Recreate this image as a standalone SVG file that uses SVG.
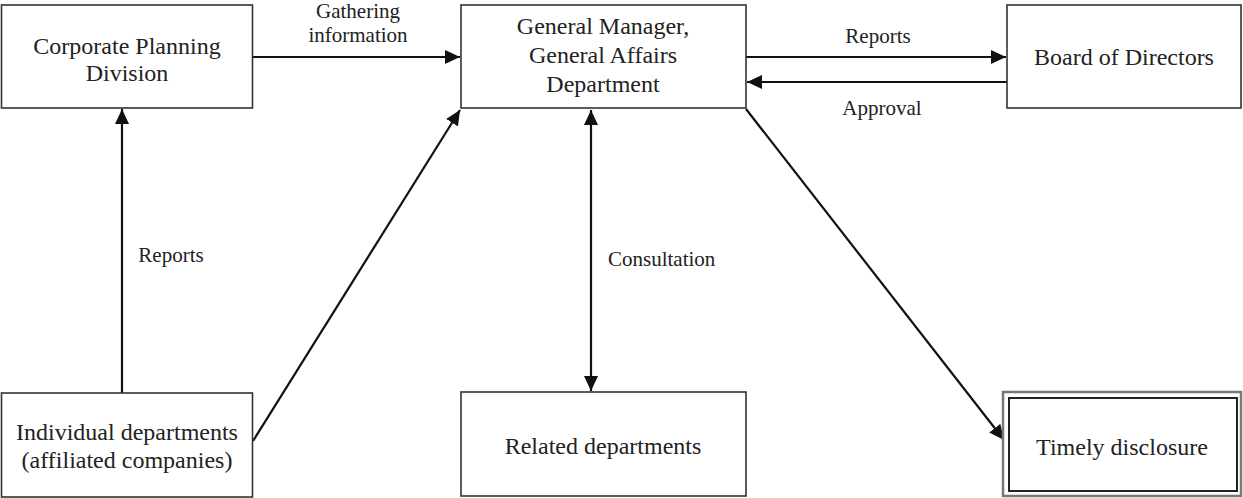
<svg xmlns="http://www.w3.org/2000/svg" width="1243" height="498" viewBox="0 0 1243 498">
<style>
.box{fill:#fff;stroke:#333;stroke-width:1.6}
.t{font-family:"Liberation Serif","Times New Roman",serif;font-size:24px;fill:#222;text-anchor:middle}
.l{font-family:"Liberation Serif","Times New Roman",serif;font-size:21px;fill:#222;text-anchor:middle}
.ls{font-family:"Liberation Serif","Times New Roman",serif;font-size:21px;fill:#222;text-anchor:start}
.c{fill:none;stroke:#111;stroke-width:2.2}
</style>
<defs>
<marker id="ah" markerUnits="userSpaceOnUse" markerWidth="16" markerHeight="14" refX="15" refY="7" orient="auto-start-reverse">
<path d="M0,0 L15,7 L0,14 z" fill="#111"/>
</marker>
</defs>
<rect width="1243" height="498" fill="#fff"/>
<g id="connectors">
<line class="c" x1="253" y1="57" x2="460" y2="57" marker-end="url(#ah)"/>
<line class="c" x1="746" y1="57" x2="1006" y2="57" marker-end="url(#ah)"/>
<line class="c" x1="1007" y1="82" x2="747" y2="82" marker-end="url(#ah)"/>
<line class="c" x1="122" y1="393" x2="122" y2="109" marker-end="url(#ah)"/>
<line class="c" x1="253" y1="441" x2="460" y2="110" marker-end="url(#ah)"/>
<line class="c" x1="591" y1="110" x2="591" y2="391" marker-start="url(#ah)" marker-end="url(#ah)"/>
<line class="c" x1="746" y1="109" x2="1004" y2="440" marker-end="url(#ah)"/>
<text class="l" x="358" y="18">Gathering</text>
<text class="l" x="358" y="42">information</text>
<text class="l" x="878" y="43">Reports</text>
<text class="l" x="882" y="115">Approval</text>
<text class="l" x="171" y="262">Reports</text>
<text class="ls" x="608" y="266">Consultation</text>
</g>
<g id="corporate-planning">
<rect class="box" x="1.5" y="5" width="251" height="103"/>
<text class="t" x="127" y="54">Corporate Planning</text>
<text class="t" x="127" y="81">Division</text>
</g>
<g id="general-manager">
<rect class="box" x="461" y="5" width="285" height="103"/>
<text class="t" x="603" y="34">General Manager,</text>
<text class="t" x="603" y="63">General Affairs</text>
<text class="t" x="603" y="92">Department</text>
</g>
<g id="board">
<rect class="box" x="1007" y="5" width="234" height="103"/>
<text class="t" x="1124" y="65">Board of Directors</text>
</g>
<g id="individual">
<rect class="box" x="1.5" y="393" width="251" height="104"/>
<text class="t" x="127" y="440">Individual departments</text>
<text class="t" x="127" y="468">(affiliated companies)</text>
</g>
<g id="related">
<rect class="box" x="461" y="392" width="285" height="104"/>
<text class="t" x="603" y="454">Related departments</text>
</g>
<g id="timely">
<rect x="1003" y="392" width="238" height="104" fill="#fff" stroke="#777" stroke-width="2.5"/>
<rect x="1009" y="398" width="228" height="93" fill="#fff" stroke="#222" stroke-width="2"/>
<text class="t" x="1122" y="455">Timely disclosure</text>
</g>
</svg>
